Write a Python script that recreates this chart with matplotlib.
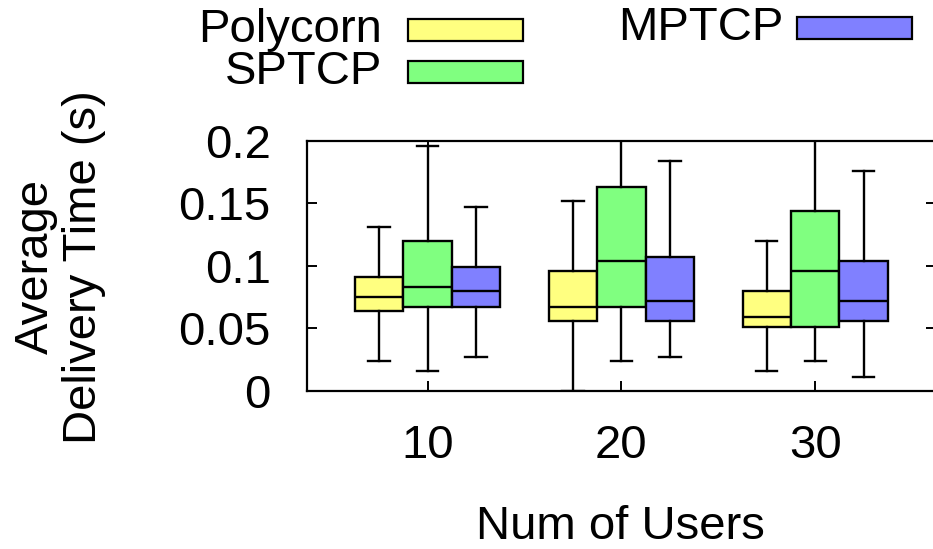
import numpy as np
import matplotlib
matplotlib.use("Agg")
import matplotlib.pyplot as plt
from matplotlib.patches import Rectangle

plt.rcParams['font.family'] = ['Liberation Sans', 'DejaVu Sans']

# data: box statistics per scheme, one entry per user count
users = [10, 20, 30]
schemes = ['Polycorn', 'SPTCP', 'MPTCP']
colors = ['#ffff80', '#80ff80', '#8080ff']

# whisker low, q1, median, q3, whisker high
polycorn = [[0.024, 0.064, 0.075, 0.091, 0.131],
            [0.000, 0.056, 0.067, 0.096, 0.152],
            [0.016, 0.051, 0.059, 0.080, 0.120]]
sptcp = [[0.016, 0.067, 0.083, 0.120, 0.196],
         [0.024, 0.067, 0.104, 0.163, 0.230],
         [0.024, 0.051, 0.096, 0.144, 0.230]]
mptcp = [[0.027, 0.067, 0.080, 0.099, 0.147],
         [0.027, 0.056, 0.072, 0.107, 0.184],
         [0.011, 0.056, 0.072, 0.104, 0.176]]
all_data = [polycorn, sptcp, mptcp]

fig = plt.figure(figsize=(9.33, 5.49), dpi=100)
ax = fig.add_axes([0.329, 0.2878, 0.674, 0.4554])

fs = 34
width = 0.25
X = np.arange(1, len(users) + 1)
for i, data in enumerate(all_data):
    stats = []
    for row in data:
        stats.append(dict(whislo=row[0], q1=row[1], med=row[2], q3=row[3],
                          whishi=row[4], fliers=[]))
    ax.bxp(stats, positions=X + (i - 1) * width, widths=width,
           capwidths=0.11, patch_artist=True, showfliers=False,
           boxprops=dict(facecolor=colors[i], edgecolor='black', linewidth=1.7),
           medianprops=dict(color='black', linewidth=1.7),
           whiskerprops=dict(color='black', linewidth=1.7),
           capprops=dict(color='black', linewidth=1.7),
           manage_ticks=False)

ax.set_xlim(0.378, 3.622)
ax.set_ylim(0, 0.2)
ax.set_xticks(X)
ax.set_xticklabels([str(u) for u in users])
ax.set_yticks([0, 0.05, 0.1, 0.15, 0.2])
ax.set_yticklabels(['0', '0.05', '0.1', '0.15', '0.2'])
ax.tick_params(axis='both', direction='in', length=7, width=1.4,
               labelsize=fs, top=True, right=True)
ax.tick_params(axis='y', pad=26)
ax.tick_params(axis='x', pad=24)
for s in ax.spines.values():
    s.set_linewidth(1.6)

fig.text(60 / 933, 1 - 267 / 549, 'Average\nDelivery Time (s)', rotation=90,
         ha='center', va='center', multialignment='center', fontsize=fs,
         linespacing=1.1)
fig.text(620 / 933, 1 - 539 / 549, 'Num of Users', ha='center',
         va='baseline', fontsize=fs)

# legend drawn in gnuplot style: label, then sample box
legend_pos = [(382, 30, 408), (382, 72, 408), (783, 28, 797)]
for (tx, ty, bx), name, c in zip(legend_pos, schemes, colors):
    fig.text(tx / 933, 1 - ty / 549, name, ha='right', va='center',
             fontsize=fs)
    fig.patches.append(Rectangle((bx / 933, 1 - (ty + 11) / 549),
                                 115 / 933, 22 / 549, facecolor=c,
                                 edgecolor='black', linewidth=1.6,
                                 transform=fig.transFigure, figure=fig))

fig.savefig('out.png', dpi=100)
